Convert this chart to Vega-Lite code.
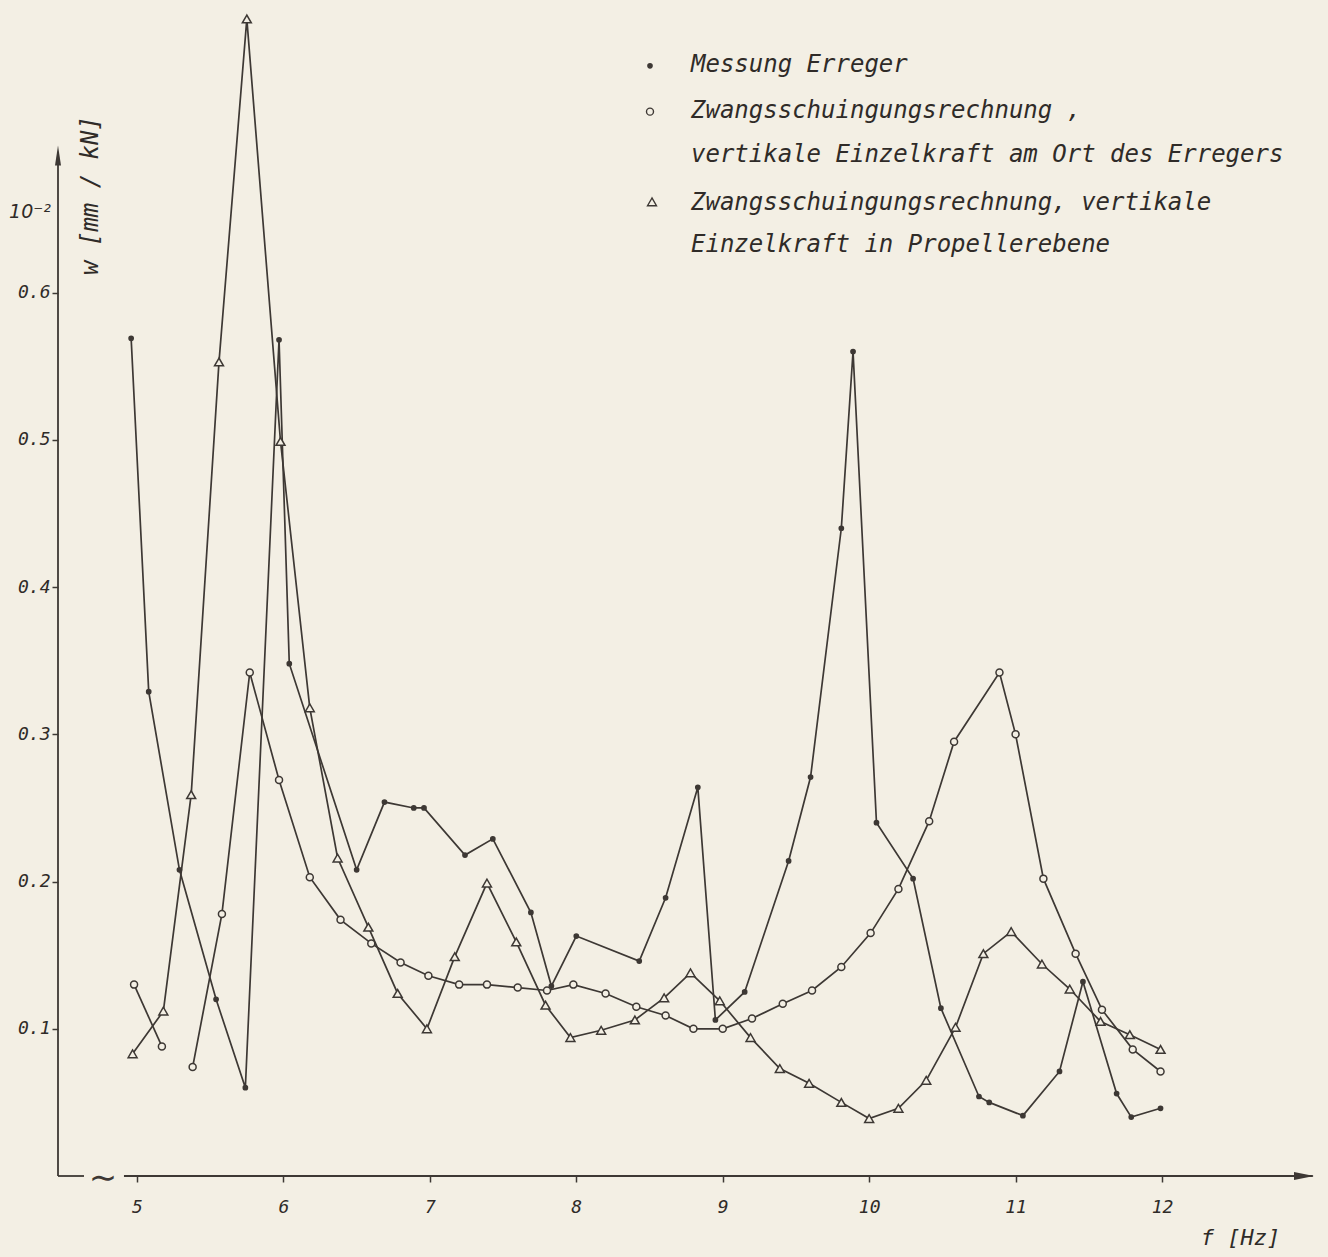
{
  "$schema": "https://vega.github.io/schema/vega-lite/v6.json",
  "width": 1256,
  "height": 1163,
  "autosize": {"type": "none"},
  "padding": {"left": 58, "top": 13, "right": 14, "bottom": 81},
  "background": "#f3efe4",
  "config": {"view": {"stroke": null}, "font": "DejaVu Sans Mono"},
  "datasets": {
    "pts": [
      {"series": "m", "part": "a", "f": 4.96, "w": 0.569},
      {"series": "m", "part": "a", "f": 5.08, "w": 0.329},
      {"series": "m", "part": "a", "f": 5.29, "w": 0.208},
      {"series": "m", "part": "a", "f": 5.54, "w": 0.120},
      {"series": "m", "part": "a", "f": 5.74, "w": 0.060},
      {"series": "m", "part": "a", "f": 5.97, "w": 0.568},
      {"series": "m", "part": "a", "f": 6.04, "w": 0.348},
      {"series": "m", "part": "a", "f": 6.50, "w": 0.208},
      {"series": "m", "part": "a", "f": 6.69, "w": 0.254},
      {"series": "m", "part": "a", "f": 6.89, "w": 0.250},
      {"series": "m", "part": "a", "f": 6.96, "w": 0.250},
      {"series": "m", "part": "a", "f": 7.24, "w": 0.218},
      {"series": "m", "part": "a", "f": 7.43, "w": 0.229},
      {"series": "m", "part": "a", "f": 7.69, "w": 0.179},
      {"series": "m", "part": "a", "f": 7.83, "w": 0.129},
      {"series": "m", "part": "a", "f": 8.00, "w": 0.163},
      {"series": "m", "part": "a", "f": 8.43, "w": 0.146},
      {"series": "m", "part": "a", "f": 8.61, "w": 0.189},
      {"series": "m", "part": "a", "f": 8.83, "w": 0.264},
      {"series": "m", "part": "a", "f": 8.95, "w": 0.106},
      {"series": "m", "part": "a", "f": 9.15, "w": 0.125},
      {"series": "m", "part": "a", "f": 9.45, "w": 0.214},
      {"series": "m", "part": "a", "f": 9.60, "w": 0.271},
      {"series": "m", "part": "a", "f": 9.81, "w": 0.440},
      {"series": "m", "part": "a", "f": 9.89, "w": 0.560},
      {"series": "m", "part": "a", "f": 10.05, "w": 0.240},
      {"series": "m", "part": "a", "f": 10.30, "w": 0.202},
      {"series": "m", "part": "a", "f": 10.49, "w": 0.114},
      {"series": "m", "part": "a", "f": 10.75, "w": 0.054},
      {"series": "m", "part": "a", "f": 10.82, "w": 0.050},
      {"series": "m", "part": "a", "f": 11.05, "w": 0.041},
      {"series": "m", "part": "a", "f": 11.30, "w": 0.071},
      {"series": "m", "part": "a", "f": 11.46, "w": 0.132},
      {"series": "m", "part": "a", "f": 11.69, "w": 0.056},
      {"series": "m", "part": "a", "f": 11.79, "w": 0.040},
      {"series": "m", "part": "a", "f": 11.99, "w": 0.046},

      {"series": "c", "part": "a", "f": 4.98, "w": 0.130},
      {"series": "c", "part": "a", "f": 5.17, "w": 0.088},
      {"series": "c", "part": "b", "f": 5.38, "w": 0.074},
      {"series": "c", "part": "b", "f": 5.58, "w": 0.178},
      {"series": "c", "part": "b", "f": 5.77, "w": 0.342},
      {"series": "c", "part": "b", "f": 5.97, "w": 0.269},
      {"series": "c", "part": "b", "f": 6.18, "w": 0.203},
      {"series": "c", "part": "b", "f": 6.39, "w": 0.174},
      {"series": "c", "part": "b", "f": 6.60, "w": 0.158},
      {"series": "c", "part": "b", "f": 6.80, "w": 0.145},
      {"series": "c", "part": "b", "f": 6.99, "w": 0.136},
      {"series": "c", "part": "b", "f": 7.20, "w": 0.130},
      {"series": "c", "part": "b", "f": 7.39, "w": 0.130},
      {"series": "c", "part": "b", "f": 7.60, "w": 0.128},
      {"series": "c", "part": "b", "f": 7.80, "w": 0.126},
      {"series": "c", "part": "b", "f": 7.98, "w": 0.130},
      {"series": "c", "part": "b", "f": 8.20, "w": 0.124},
      {"series": "c", "part": "b", "f": 8.41, "w": 0.115},
      {"series": "c", "part": "b", "f": 8.61, "w": 0.109},
      {"series": "c", "part": "b", "f": 8.80, "w": 0.100},
      {"series": "c", "part": "b", "f": 9.00, "w": 0.100},
      {"series": "c", "part": "b", "f": 9.20, "w": 0.107},
      {"series": "c", "part": "b", "f": 9.41, "w": 0.117},
      {"series": "c", "part": "b", "f": 9.61, "w": 0.126},
      {"series": "c", "part": "b", "f": 9.81, "w": 0.142},
      {"series": "c", "part": "b", "f": 10.01, "w": 0.165},
      {"series": "c", "part": "b", "f": 10.20, "w": 0.195},
      {"series": "c", "part": "b", "f": 10.41, "w": 0.241},
      {"series": "c", "part": "b", "f": 10.58, "w": 0.295},
      {"series": "c", "part": "b", "f": 10.89, "w": 0.342},
      {"series": "c", "part": "b", "f": 11.00, "w": 0.300},
      {"series": "c", "part": "b", "f": 11.19, "w": 0.202},
      {"series": "c", "part": "b", "f": 11.41, "w": 0.151},
      {"series": "c", "part": "b", "f": 11.59, "w": 0.113},
      {"series": "c", "part": "b", "f": 11.80, "w": 0.086},
      {"series": "c", "part": "b", "f": 11.99, "w": 0.071},

      {"series": "t", "part": "a", "f": 4.97, "w": 0.083},
      {"series": "t", "part": "a", "f": 5.18, "w": 0.112},
      {"series": "t", "part": "a", "f": 5.37, "w": 0.259},
      {"series": "t", "part": "a", "f": 5.56, "w": 0.553},
      {"series": "t", "part": "a", "f": 5.75, "w": 0.786},
      {"series": "t", "part": "a", "f": 5.98, "w": 0.499},
      {"series": "t", "part": "a", "f": 6.18, "w": 0.318},
      {"series": "t", "part": "a", "f": 6.37, "w": 0.216},
      {"series": "t", "part": "a", "f": 6.58, "w": 0.169},
      {"series": "t", "part": "a", "f": 6.78, "w": 0.124},
      {"series": "t", "part": "a", "f": 6.98, "w": 0.100},
      {"series": "t", "part": "a", "f": 7.17, "w": 0.149},
      {"series": "t", "part": "a", "f": 7.39, "w": 0.199},
      {"series": "t", "part": "a", "f": 7.59, "w": 0.159},
      {"series": "t", "part": "a", "f": 7.79, "w": 0.116},
      {"series": "t", "part": "a", "f": 7.96, "w": 0.094},
      {"series": "t", "part": "a", "f": 8.17, "w": 0.099},
      {"series": "t", "part": "a", "f": 8.40, "w": 0.106},
      {"series": "t", "part": "a", "f": 8.60, "w": 0.121},
      {"series": "t", "part": "a", "f": 8.78, "w": 0.138},
      {"series": "t", "part": "a", "f": 8.98, "w": 0.119},
      {"series": "t", "part": "a", "f": 9.19, "w": 0.094},
      {"series": "t", "part": "a", "f": 9.39, "w": 0.073},
      {"series": "t", "part": "a", "f": 9.59, "w": 0.063},
      {"series": "t", "part": "a", "f": 9.81, "w": 0.050},
      {"series": "t", "part": "a", "f": 10.00, "w": 0.039},
      {"series": "t", "part": "a", "f": 10.20, "w": 0.046},
      {"series": "t", "part": "a", "f": 10.39, "w": 0.065},
      {"series": "t", "part": "a", "f": 10.59, "w": 0.101},
      {"series": "t", "part": "a", "f": 10.78, "w": 0.151},
      {"series": "t", "part": "a", "f": 10.97, "w": 0.166},
      {"series": "t", "part": "a", "f": 11.18, "w": 0.144},
      {"series": "t", "part": "a", "f": 11.37, "w": 0.127},
      {"series": "t", "part": "a", "f": 11.58, "w": 0.105},
      {"series": "t", "part": "a", "f": 11.78, "w": 0.096},
      {"series": "t", "part": "a", "f": 11.99, "w": 0.086}
    ],
    "legendMarks": [
      {"series": "m", "f": 8.5034, "w": 0.7541},
      {"series": "c", "f": 8.5034, "w": 0.7230},
      {"series": "t", "f": 8.517, "w": 0.6617}
    ],
    "legendText": [
      {"f": 8.7834, "w": 0.7500, "text": "Messung Erreger"},
      {"f": 8.7834, "w": 0.7188, "text": "Zwangsschuingungsrechnung ,"},
      {"f": 8.7834, "w": 0.6889, "text": "vertikale Einzelkraft am Ort des Erregers"},
      {"f": 8.7834, "w": 0.6562, "text": "Zwangsschuingungsrechnung, vertikale"},
      {"f": 8.7834, "w": 0.6277, "text": "Einzelkraft in Propellerebene"}
    ],
    "axisLines": [
      {"f": 4.4605, "f2": 4.638, "w": 0, "w2": 0},
      {"f": 4.911, "f2": 13.03, "w": 0, "w2": 0},
      {"f": 4.4605, "f2": 4.4605, "w": 0, "w2": 0.695}
    ]
  },
  "encoding": {
    "x": {
      "field": "f",
      "type": "quantitative",
      "scale": {"domain": [4.4605, 13.038], "nice": false, "zero": false},
      "axis": {
        "values": [5, 6, 7, 8, 9, 10, 11, 12],
        "format": "d",
        "domain": false,
        "grid": false,
        "tickSize": 6,
        "tickWidth": 1.5,
        "tickColor": "#3d3834",
        "labelFont": "DejaVu Sans Mono",
        "labelFontStyle": "italic",
        "labelFontSize": 18,
        "labelColor": "#2f2b28",
        "labelPadding": 16,
        "title": "f [Hz]",
        "titleFont": "DejaVu Sans Mono",
        "titleFontStyle": "italic",
        "titleFontWeight": "normal",
        "titleFontSize": 22,
        "titleColor": "#2f2b28",
        "titleX": 1182,
        "titleY": 61,
        "titleAlign": "center",
        "titleBaseline": "middle"
      }
    },
    "y": {
      "field": "w",
      "type": "quantitative",
      "scale": {"domain": [0, 0.79], "nice": false},
      "axis": {
        "values": [0.1, 0.2, 0.3, 0.4, 0.5, 0.6],
        "format": ".1f",
        "domain": false,
        "grid": false,
        "tickSize": 6,
        "tickWidth": 1.5,
        "tickColor": "#3d3834",
        "labelFont": "DejaVu Sans Mono",
        "labelFontStyle": "italic",
        "labelFontSize": 18,
        "labelColor": "#2f2b28",
        "labelPadding": 2,
        "title": "w [mm / kN]",
        "titleFont": "DejaVu Sans Mono",
        "titleFontStyle": "italic",
        "titleFontWeight": "normal",
        "titleFontSize": 24,
        "titleColor": "#2f2b28",
        "titleAngle": 270,
        "titleX": 32,
        "titleY": 182,
        "titleAlign": "center",
        "titleBaseline": "middle"
      }
    }
  },
  "layer": [
    {
      "data": {"name": "axisLines"},
      "mark": {"type": "rule", "color": "#3d3834", "strokeWidth": 1.8},
      "encoding": {"x2": {"field": "f2"}, "y2": {"field": "w2"}}
    },
    {
      "data": {"values": [{"f": 13.038, "w": 0}]},
      "mark": {"type": "point", "shape": "M-2,-0.4L0,0L-2,0.4Z", "size": 400, "filled": true, "color": "#3d3834", "opacity": 1}
    },
    {
      "data": {"values": [{"f": 4.4605, "w": 0.70}]},
      "mark": {"type": "point", "shape": "M-0.3,2L0,0L0.3,2Z", "size": 400, "filled": true, "color": "#3d3834", "opacity": 1}
    },
    {
      "data": {"values": [{"f": 4.768, "w": 0, "text": "∼"}]},
      "mark": {"type": "text", "font": "DejaVu Sans", "fontSize": 34, "align": "center", "baseline": "middle", "dy": 3, "color": "#3d3834"},
      "encoding": {"text": {"field": "text"}}
    },
    {
      "data": {"values": [{"f": 4.2693, "w": 0.6549, "text": "10⁻²"}]},
      "mark": {"type": "text", "font": "DejaVu Sans", "fontStyle": "italic", "fontSize": 19, "align": "center", "baseline": "middle", "color": "#2f2b28"},
      "encoding": {"text": {"field": "text"}}
    },
    {
      "data": {"name": "pts"},
      "mark": {"type": "line", "color": "#3d3834", "strokeWidth": 1.7},
      "encoding": {"detail": [{"field": "series"}, {"field": "part"}]}
    },
    {
      "data": {"name": "pts"},
      "mark": {"type": "point", "filled": true, "strokeWidth": 1.5, "opacity": 1},
      "encoding": {
        "shape": {"field": "series", "type": "nominal", "scale": {"domain": ["m", "c", "t"], "range": ["circle", "circle", "triangle-up"]}, "legend": null},
        "size": {"field": "series", "type": "nominal", "scale": {"domain": ["m", "c", "t"], "range": [18, 80, 90]}, "legend": null},
        "fill": {"field": "series", "type": "nominal", "scale": {"domain": ["m", "c", "t"], "range": ["#3d3834", "#f3efe4", "#f3efe4"]}, "legend": null},
        "stroke": {"value": "#3d3834"}
      }
    },
    {
      "data": {"name": "legendMarks"},
      "mark": {"type": "point", "filled": true, "strokeWidth": 1.4, "opacity": 1},
      "encoding": {
        "shape": {"field": "series", "type": "nominal", "legend": null},
        "size": {"field": "series", "type": "nominal", "legend": null},
        "fill": {"field": "series", "type": "nominal", "legend": null},
        "stroke": {"value": "#3d3834"}
      }
    },
    {
      "data": {"name": "legendText"},
      "mark": {"type": "text", "font": "DejaVu Sans Mono", "fontStyle": "italic", "fontSize": 24, "align": "left", "baseline": "alphabetic", "color": "#2f2b28"},
      "encoding": {"text": {"field": "text"}}
    }
  ]
}
